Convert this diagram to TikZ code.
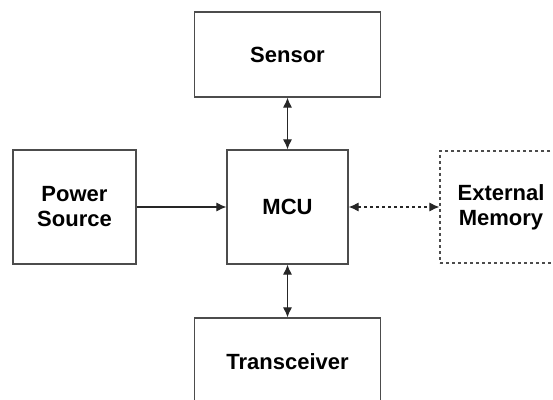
\documentclass[tikz,border=0pt]{standalone}
\usepackage{fontspec}
\setmainfont{Liberation Sans}
\usepackage{tikz}
\usetikzlibrary{arrows.meta,positioning}

\begin{document}
\begin{tikzpicture}[
  x=1pt,y=1pt,
  every node/.style={font=\fontsize{22}{25}\selectfont\bfseries,align=center},
  block/.style={rectangle,draw=black!70,line width=1.2pt,fill=white,inner sep=0pt},
  arr/.style={-{Latex[length=10pt,width=9pt]},line width=1.1pt,black!85},
  darr/.style={{Latex[length=10pt,width=9pt]}-{Latex[length=10pt,width=9pt]},line width=1.1pt,black!85},
  dotline/.style={dash pattern=on 3pt off 3pt}
]
\clip (0,0) rectangle (553,399);
\node[block,minimum width=186,minimum height=85] (sensor) at (287.5,344.5) {Sensor};
\node[block,minimum width=121,minimum height=114] (mcu) at (287.5,192) {MCU};
\node[block,minimum width=123,minimum height=114] (power) at (74.5,192) {Power\\Source};
\node[block,dotline,minimum width=122,minimum height=112] (extmem) at (501,192) {External\\Memory};
\node[block,minimum width=186,minimum height=88] (trans) at (287.5,37) {Transceiver};
\draw[darr] (sensor)--(mcu);
\draw[darr] (mcu)--(trans);
\draw[arr] (power)--(mcu);
\draw[darr,dotline] (mcu)--(extmem);
\end{tikzpicture}
\end{document}
